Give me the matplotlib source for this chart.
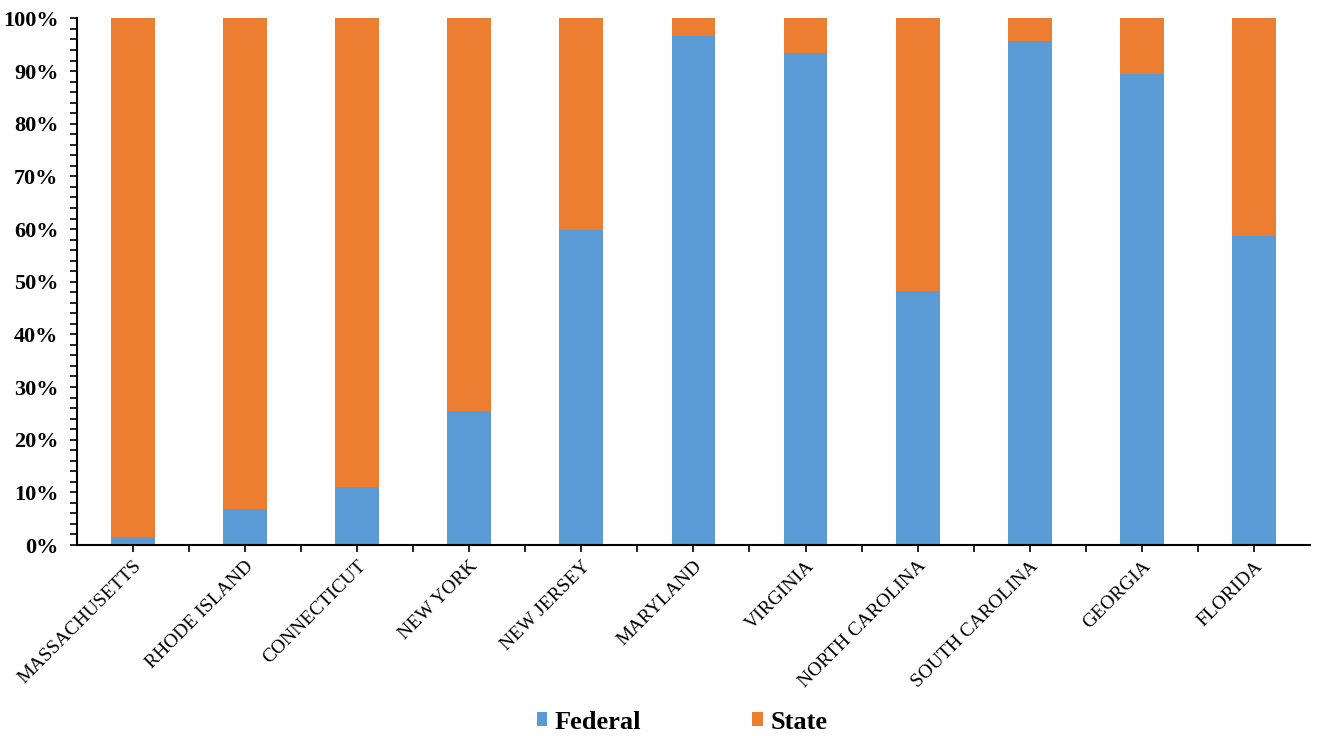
import numpy as np
import matplotlib
matplotlib.use("Agg")
import matplotlib.pyplot as plt
from matplotlib.ticker import MultipleLocator, PercentFormatter

states = ["MASSACHUSETTS", "RHODE ISLAND", "CONNECTICUT", "NEW YORK", "NEW JERSEY",
          "MARYLAND", "VIRGINIA", "NORTH CAROLINA", "SOUTH CAROLINA", "GEORGIA", "FLORIDA"]
federal = [1.5, 6.8, 11.0, 25.5, 59.8, 96.7, 93.4, 48.2, 95.8, 89.4, 58.7]
state = [100 - f for f in federal]

blue = "#5B9BD5"
orange = "#ED7D31"

plt.rcParams["font.family"] = ["Liberation Serif", "DejaVu Serif"]

fig = plt.figure(figsize=(13.22, 7.36), dpi=100)
ax = fig.add_axes([0.058, 0.2595, 0.933, 0.7155])

x = np.arange(len(states))
ax.bar(x, federal, width=0.39, color=blue, label="Federal")
ax.bar(x, state, width=0.39, bottom=federal, color=orange, label="State")

ax.set_xlim(-0.5, len(states) - 0.5)
ax.set_ylim(0, 100)
ax.yaxis.set_major_locator(MultipleLocator(10))
ax.yaxis.set_minor_locator(MultipleLocator(2))
ax.yaxis.set_major_formatter(PercentFormatter(decimals=0))
ax.set_xticks(x)
ax.set_xticks(x[:-1] + 0.5, minor=True)
ax.set_xticklabels(states, rotation=45, ha="right", rotation_mode="anchor", fontsize=14)
for lab in ax.get_yticklabels():
    lab.set_fontweight("bold")
    lab.set_fontsize(16)

ax.tick_params(axis="both", which="both", direction="out", length=5, width=1.2, color="black")
ax.tick_params(axis="x", which="major", pad=4)
ax.tick_params(axis="y", which="major", pad=8)
for side in ["top", "right"]:
    ax.spines[side].set_visible(False)
for side in ["left", "bottom"]:
    ax.spines[side].set_linewidth(1.5)

fig.legend(loc="lower center", bbox_to_anchor=(0.516, -0.029), ncol=2, frameon=False,
           prop={"weight": "bold", "size": 19}, handlelength=0.4, handleheight=0.4,
           handletextpad=0.3, columnspacing=4.2)

fig.savefig("out.png", dpi=100)
